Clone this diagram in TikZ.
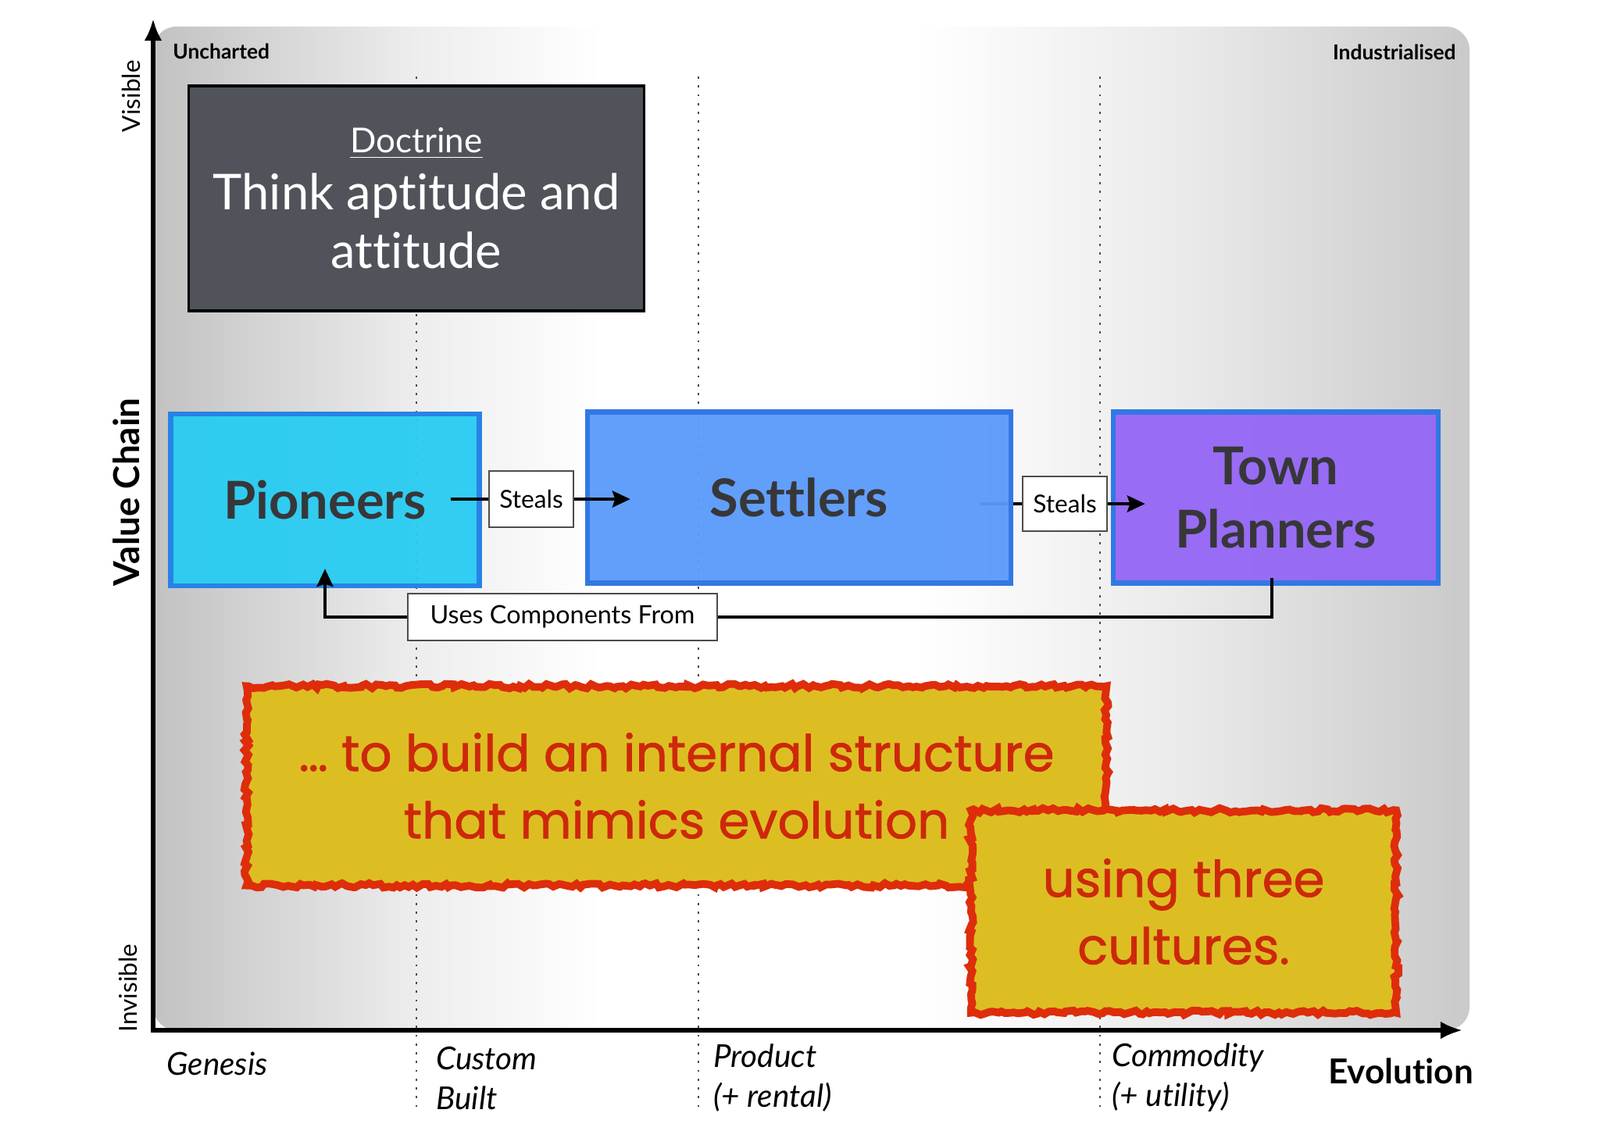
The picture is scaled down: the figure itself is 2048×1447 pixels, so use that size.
\documentclass[tikz,border=0pt]{standalone}
\usepackage{fontspec}
\setmainfont{Lato}[Ligatures=NoCommon]
\newfontfamily\notefont{Poppins}[FakeBold=1.2]
\usepackage{tikz}
\usetikzlibrary{calc, positioning}
\usetikzlibrary{arrows.meta}
\usetikzlibrary{decorations.pathmorphing}

\definecolor{doctrinefill}{RGB}{80,84,90}
\definecolor{pioneersfill}{RGB}{40,204,242}
\definecolor{pioneersline}{RGB}{40,130,230}
\definecolor{settlersfill}{RGB}{90,154,250}
\definecolor{settlersline}{RGB}{50,120,228}
\definecolor{plannersfill}{RGB}{148,102,245}
\definecolor{inktext}{RGB}{55,55,58}
\definecolor{noteyellow}{RGB}{220,190,35}
\definecolor{notered}{RGB}{222,45,10}
\definecolor{noteink}{RGB}{205,40,10}

\pgfdeclarehorizontalshading{mapshade}{100bp}{color(0bp)=(gray!48); color(25bp)=(gray!48); color(35bp)=(gray!14); color(42bp)=(white); color(54bp)=(white); color(64bp)=(gray!16); color(70bp)=(gray!30); color(75bp)=(gray!42); color(100bp)=(gray!42)}

\pgfdeclarelayer{background}
\pgfsetlayers{background,main}

\begin{document}
\begin{tikzpicture}[
    x=0.01cm, y=-0.01cm,
    >={Stealth[length=6.5pt, width=6pt, inset=1pt]},
    axis/.style={line width=1.5pt, {Latex[length=8pt, width=6.5pt]}-{Latex[length=8pt, width=6.5pt]}},
    stage/.style={gray!60!black, line width=0.7pt, dash pattern=on 0.8pt off 2.4pt},
    culture/.style={draw, line width=1.8pt, fill opacity=0.95, text opacity=1, text=inktext,
        font=\fontsize{19}{23}\selectfont\bfseries, align=center, inner sep=0pt},
    tag/.style={draw=black!70, fill=white, line width=0.6pt, inner sep=0pt,
        font=\fontsize{9}{11}\selectfont},
    link/.style={line width=1.2pt},
    note/.style={draw=notered, fill=noteyellow, line width=2.8pt, decorate,
        decoration={random steps, segment length=1.6pt, amplitude=0.8pt},
        text=noteink, font=\notefont\fontsize{18.3}{24.5}\selectfont, align=center, inner sep=0pt},
    axislabel/.style={font=\fontsize{9}{11}\selectfont, rotate=90},
    phase/.style={font=\fontsize{11.5}{14.5}\selectfont\itshape, align=left, anchor=west}
]
    \useasboundingbox (0,0) rectangle (2048,1447);

    % Sfondo
    \begin{pgfonlayer}{background}
        \shade[shading=mapshade, rounded corners=0.3cm] (196,34) rectangle (1881,1319);
    \end{pgfonlayer}

    % Fasi dell'evoluzione
    \foreach \x in {533,894,1408}
        \draw[stage] (\x,98) -- (\x,1424);

    % Assi
    \coordinate (O) at (196,1319);
    \coordinate (ytop) at (196,24);
    \coordinate (xend) at (1872,1319);
    \draw[axis] (ytop) -- (O) -- (xend);

    \node[font=\fontsize{7.5}{9}\selectfont\bfseries, anchor=west] (uncharted) at (209,66) {Uncharted};
    \node[font=\fontsize{7.5}{9}\selectfont\bfseries, anchor=east] (industrialised) at (1876,67) {Industrialised};
    \node[axislabel] (visible) at (168,123) {Visible};
    \node[axislabel] (invisible) at (164,1265) {Invisible};
    \node[axislabel, font=\fontsize{13}{15}\selectfont\bfseries] (valuechain) at (162,630) {Value Chain};

    \node[phase] (genesis) at (201,1362) {Genesis};
    \node[phase] (custom) at (546,1380) {Custom\\Built};
    \node[phase] (product) at (901,1380) {Product\\(+ rental)};
    \node[phase] (commodity) at (1411,1380) {Commodity\\(+ utility)};
    \node[font=\fontsize{12.5}{15}\selectfont\bfseries] (evolution) at (1793,1371) {Evolution};

    % Dottrina
    \node[draw=black, line width=1pt, fill=doctrinefill, text=white, align=center,
        minimum width=5.83cm, minimum height=2.88cm, font=\fontsize{18}{21.5}\selectfont]
        (doctrine) at (533,254)
        {{\fontsize{12.5}{15}\selectfont\underline{Doctrine}}\\[-1pt]Think aptitude and\\attitude};

    % Culture
    \node[culture, draw=pioneersline, fill=pioneersfill, minimum width=3.95cm, minimum height=2.2cm]
        (pioneers) at (416,640) {Pioneers};
    \node[culture, draw=settlersline, fill=settlersfill, minimum width=5.42cm, minimum height=2.19cm]
        (settlers) at (1023,637) {Settlers};
    \node[culture, draw=settlersline, fill=plannersfill, minimum width=4.16cm, minimum height=2.19cm]
        (planners) at (1633,637) {Town\\Planners};

    \node[tag, minimum width=1.08cm, minimum height=0.72cm] (steals1) at (680,639) {Steals};
    \node[tag, minimum width=1.08cm, minimum height=0.70cm] (steals2) at (1363,645) {Steals};
    \node[tag, minimum width=3.96cm, minimum height=0.6cm, font=\fontsize{9.2}{11}\selectfont]
        (uses) at (720,790) {Uses Components From};

    % Collegamenti
    \draw[link] ($(pioneers.east |- steals1.west)+(-40,0)$) -- (steals1.west);
    \draw[link, ->] (steals1.east) -- ($(settlers.west |- steals1.east)+(58,0)$);
    \begin{pgfonlayer}{background}
        \draw[link] ($(settlers.east |- steals2.west)+(-42,0)$) -- (steals2.west);
    \end{pgfonlayer}
    \draw[link] (settlers.east |- steals2.west) -- (steals2.west);
    \draw[link, ->] (steals2.east) -- ($(planners.west |- steals2.east)+(44,0)$);
    \draw[link] ($(planners.south)+(-5,-10)$) |- (uses.east);
    \draw[link, ->] (uses.west) -| ($(pioneers.south)+(0,-25)$);

    % Note
    \node[note, minimum width=11.0cm, minimum height=2.55cm] (note1) at (866,1006)
        {\dots\ to build an internal structure\\that mimics evolution};
    \node[note, minimum width=5.44cm, minimum height=2.59cm] (note2) at (1515,1167)
        {using three\\cultures.};
\end{tikzpicture}
\end{document}
